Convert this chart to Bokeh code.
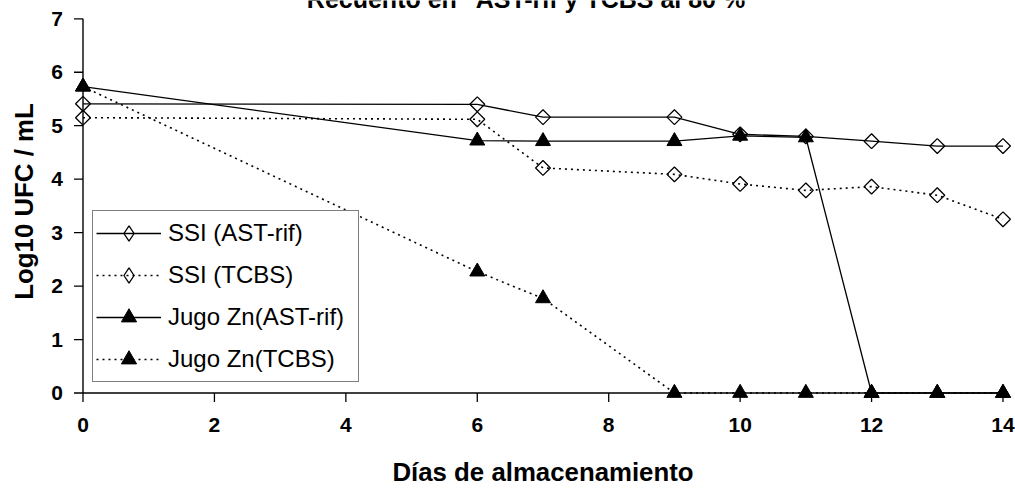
import numpy as np
from bokeh.plotting import figure
from bokeh.models import Legend, LegendItem
from bokeh.core.properties import value
from bokeh.embed import file_html
from bokeh.resources import INLINE

# Storage days and log10 counts (CFU/mL) for each medium
dias = [0, 6, 7, 9, 10, 11, 12, 13, 14]
ssi_ast = [5.41, 5.40, 5.16, 5.16, 4.84, 4.80, 4.71, 4.62, 4.62]
ssi_tcbs = [5.15, 5.12, 4.21, 4.09, 3.91, 3.79, 3.86, 3.70, 3.25]
jugo_ast = [5.73, 4.72, 4.71, 4.71, 4.81, 4.78, 0, 0, 0]
jugo_tcbs = [5.73, 2.27, 1.77, 0, 0, 0, 0, 0, 0]

x_ticks = [0, 2, 4, 6, 8, 10, 12, 14]
y_ticks = [0, 1, 2, 3, 4, 5, 6, 7]

titulo = 'Recuento en "AST-rif y TCBS al 80 %'
titulo_x = "Días de almacenamiento"
titulo_y = "Log10 UFC / mL"

FONT = value("Liberation Sans")
W, H = 1015, 489

# Where the origin and the far axis ends sit on the canvas
X0_PX, XMAX_PX = 82.5, 1002.5
Y0_PX, YMAX_PX = 392.5, 18.3
xmax, ymax = x_ticks[-1], y_ticks[-1]
kx = (XMAX_PX - X0_PX) / xmax          # px per day
ky = (Y0_PX - YMAX_PX) / ymax          # px per log unit

p = figure(
    width=W, height=H,
    x_range=(-X0_PX / kx, xmax + (W - XMAX_PX) / kx),
    y_range=(-(H - Y0_PX) / ky, ymax + YMAX_PX / ky),
    x_axis_location=None, y_axis_location=None,
    output_backend="svg", toolbar_location=None,
    min_border=0,
)
p.outline_line_color = None
p.grid.grid_line_color = None
p.background_fill_color = "white"
p.border_fill_color = "white"

# Axes crossing at the origin, with outward ticks
TICK = 9
p.segment(x0=[0, 0], y0=[0, 0], x1=[xmax, 0], y1=[0, ymax],
          line_color="black", line_width=1.4)
p.segment(x0=x_ticks, y0=[0] * len(x_ticks), x1=x_ticks,
          y1=[-TICK / ky] * len(x_ticks), line_color="black", line_width=1.3)
p.segment(x0=[-TICK / kx] * len(y_ticks), y0=y_ticks, x1=[0] * len(y_ticks),
          y1=y_ticks, line_color="black", line_width=1.3)

p.text(x=x_ticks, y=[0] * len(x_ticks), text=[str(t) for t in x_ticks],
       y_offset=32, text_align="center", text_baseline="middle",
       text_font=FONT, text_font_style="bold", text_font_size="21px",
       text_color="black")
p.text(x=[0] * len(y_ticks), y=y_ticks, text=[str(t) for t in y_ticks],
       x_offset=-(TICK + 11), text_align="right", text_baseline="middle",
       text_font=FONT, text_font_style="bold", text_font_size="21px",
       text_color="black")

dot = "2 4"

l1 = p.line(dias, ssi_ast, line_color="black", line_width=1.3)
l2 = p.line(dias, ssi_tcbs, line_color="black", line_width=1.6, line_dash=dot)
l3 = p.line(dias, jugo_ast, line_color="black", line_width=1.3)
l4 = p.line(dias, jugo_tcbs, line_color="black", line_width=1.6, line_dash=dot)

# Open diamonds (squares turned by 45 degrees) and filled triangles
s1 = p.scatter(dias, ssi_ast, marker="square", angle=np.pi / 4, size=10.5,
               fill_alpha=0, line_color="black", line_width=1.3)
s2 = p.scatter(dias, ssi_tcbs, marker="square", angle=np.pi / 4, size=10.5,
               fill_alpha=0, line_color="black", line_width=1.3)
s3 = p.scatter(dias, jugo_ast, marker="triangle", size=15,
               fill_color="black", line_color="black")
s4 = p.scatter(dias, jugo_tcbs, marker="triangle", size=15,
               fill_color="black", line_color="black")

# Legend samples keep their own marker (the legend draws markers unrotated)
d1 = p.scatter(dias, ssi_ast, marker="diamond", size=0,
               fill_alpha=0, line_color="black", line_width=1.3)
d2 = p.scatter(dias, ssi_tcbs, marker="diamond", size=0,
               fill_alpha=0, line_color="black", line_width=1.3)

legend = Legend(
    items=[
        LegendItem(label="SSI (AST-rif)", renderers=[l1, d1]),
        LegendItem(label="SSI (TCBS)", renderers=[l2, d2]),
        LegendItem(label="Jugo Zn(AST-rif)", renderers=[l3, s3]),
        LegendItem(label="Jugo Zn(TCBS)", renderers=[l4, s4]),
    ],
    location=(92, H - 382),
    margin=0, padding=3, spacing=4,
    glyph_width=65, glyph_height=38, label_height=20,
    label_standoff=7, label_width=187,
    label_text_font="Liberation Sans", label_text_font_size="24px",
    label_text_color="black",
    border_line_color="black", border_line_width=1,
    background_fill_color="white", background_fill_alpha=1,
)
p.add_layout(legend)

p.text(x=[(525.5 - X0_PX) / kx], y=[(Y0_PX + 2) / ky], text=[titulo],
       text_align="center", text_baseline="alphabetic", text_font=FONT,
       text_font_style="bold", text_font_size="25px", text_color="black")
p.text(x=[xmax / 2], y=[(Y0_PX - 471) / ky], text=[titulo_x],
       text_align="center", text_baseline="middle", text_font=FONT,
       text_font_style="bold", text_font_size="25.8px", text_color="black")
p.text(x=[(23 - X0_PX) / kx], y=[(Y0_PX - 201) / ky], text=[titulo_y],
       angle=np.pi / 2, text_align="center", text_baseline="middle",
       text_font=FONT, text_font_style="bold", text_font_size="25.8px",
       text_color="black")

open("out.html", "w").write(file_html(p, INLINE))
